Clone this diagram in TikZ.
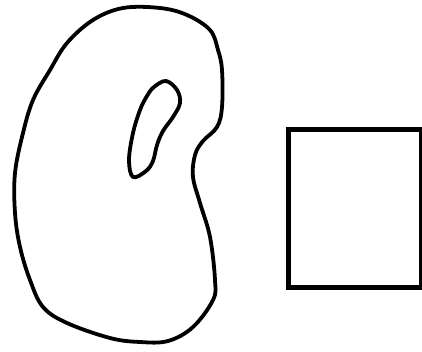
\documentclass[tikz,border=0pt]{standalone}
\begin{document}
\begin{tikzpicture}[x=1pt,y=-1pt,
  outline/.style={draw=black,line width=3.8pt,line join=round},
  boxline/.style={draw=black,line width=5pt}]
\useasboundingbox (0,0) rectangle (422,352);
% bean outline
\draw[outline] plot[smooth cycle,tension=0.6] coordinates {
  (123,8) (160,8) (187,15) (210,30) (218,50) (222,70) (222,107) (217,127)
  (203,141) (195,155) (193,177) (200,203) (210,237) (215,280) (213,300)
  (193,327) (168,341) (140,342) (110,338) (67,323) (43,307) (30,280)
  (20,247) (15,213) (15,173) (23,133) (33,100) (50,70) (67,43) (93,20)};
% hole
\draw[outline] plot[smooth cycle,tension=0.6] coordinates {
  (166,81) (177,90) (180,103) (173,117) (163,131) (157,145) (153,161)
  (146,171) (133,177) (129,160) (133,133) (140,110) (147,96) (154,87)};
% square
\node[boxline,minimum width=133pt,minimum height=158pt,inner sep=0pt,anchor=north west] (sq) at (286,127) {};
\end{tikzpicture}
\end{document}
